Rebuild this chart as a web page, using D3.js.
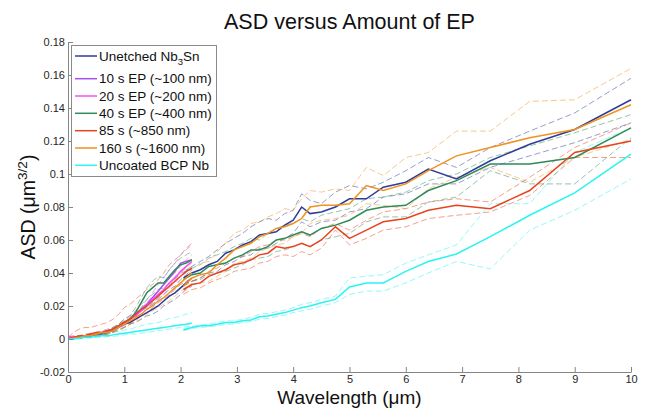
<!DOCTYPE html>
<html>
<head>
<meta charset="utf-8">
<script src="https://cdn.jsdelivr.net/npm/d3@7"></script>
<style>
body { margin: 0; background: #fff; }
svg text { font-family: Arial, "Liberation Sans", sans-serif; }
</style>
</head>
<body>
<script>
// wavelength grids (um): short-range scan and long-range scan
const wlShort = [0, 0.1, 0.2, 0.3, 0.4, 0.5, 0.6, 0.7, 0.8, 0.9, 1.0, 1.1, 1.2, 1.3, 1.4, 1.5, 1.6, 1.7, 1.8, 1.9, 2.0, 2.1, 2.2]
const wlLong = [2.05, 2.2, 2.35, 2.5, 2.65, 2.8, 2.95, 3.1, 3.25, 3.4, 3.55, 3.7, 3.85, 4.0, 4.15, 4.3, 4.5, 4.75, 5.0, 5.3, 5.6, 6.0, 6.4, 6.9, 7.5, 8.2, 9.0, 10.0]

const names = ['Unetched Nb3Sn', '10 s EP (~100 nm)', '20 s EP (~200 nm)', '40 s EP (~400 nm)', '85 s (~850 nm)', '160 s (~1600 nm)', 'Uncoated BCP Nb']
const colors = ['#2e3d98', '#a650ee', '#f54ef5', '#2e8b57', '#e8431e', '#f0921e', '#2af3f3']

const xTicks = [0, 1, 2, 3, 4, 5, 6, 7, 8, 9, 10]
const yTicks = [-0.02, 0, 0.02, 0.04, 0.06, 0.08, 0.1, 0.12, 0.14, 0.16, 0.18]

// Unetched Nb3Sn
const unetchedShort   = [0, 0.0005, 0.001, 0.0015, 0.002, 0.003, 0.003, 0.004, 0.005, 0.007, 0.009, 0.010, 0.012, 0.014, 0.016, 0.018, 0.020, 0.023, 0.026, 0.028, 0.031, 0.034, 0.037]
const unetchedShortHi = [0.0005, 0.001, 0.0015, 0.002, 0.003, 0.0035, 0.004, 0.005, 0.006, 0.008, 0.010, 0.012, 0.014, 0.017, 0.019, 0.021, 0.024, 0.027, 0.030, 0.032, 0.036, 0.039, 0.042]
const unetchedShortLo = [0, 0, 0.0005, 0.001, 0.0015, 0.002, 0.0025, 0.003, 0.004, 0.006, 0.007, 0.009, 0.010, 0.012, 0.014, 0.015, 0.017, 0.020, 0.022, 0.024, 0.027, 0.030, 0.032]
const unetchedLong   = [0.037, 0.040, 0.042, 0.045, 0.047, 0.052, 0.054, 0.057, 0.059, 0.063, 0.064, 0.065, 0.069, 0.072, 0.080, 0.076, 0.077, 0.080, 0.085, 0.085, 0.092, 0.095, 0.103, 0.097, 0.108, 0.118, 0.127, 0.145]
const unetchedLongHi = [0.040, 0.044, 0.047, 0.050, 0.054, 0.058, 0.061, 0.064, 0.068, 0.071, 0.073, 0.072, 0.076, 0.078, 0.088, 0.084, 0.082, 0.089, 0.093, 0.091, 0.095, 0.102, 0.110, 0.104, 0.116, 0.126, 0.137, 0.158]
const unetchedLongLo = [0.033, 0.035, 0.037, 0.040, 0.041, 0.045, 0.047, 0.050, 0.051, 0.055, 0.055, 0.058, 0.061, 0.064, 0.071, 0.068, 0.071, 0.072, 0.077, 0.079, 0.086, 0.088, 0.094, 0.094, 0.104, 0.111, 0.119, 0.131]

// 10 s EP (short range only)
const ep10Short   = [0.001, 0.001, 0.0015, 0.002, 0.0025, 0.003, 0.004, 0.005, 0.006, 0.008, 0.010, 0.012, 0.015, 0.018, 0.021, 0.025, 0.029, 0.033, 0.037, 0.041, 0.046, 0.047, 0.048]
const ep10ShortHi = [0.0015, 0.0015, 0.002, 0.003, 0.0035, 0.004, 0.005, 0.006, 0.007, 0.009, 0.012, 0.014, 0.017, 0.021, 0.024, 0.028, 0.033, 0.037, 0.042, 0.046, 0.051, 0.054, 0.057]
const ep10ShortLo = [0.0005, 0.0005, 0.001, 0.0015, 0.002, 0.0025, 0.003, 0.004, 0.005, 0.007, 0.008, 0.010, 0.013, 0.015, 0.018, 0.022, 0.025, 0.029, 0.032, 0.036, 0.040, 0.041, 0.042]

// 20 s EP (short range only)
const ep20Short   = [0.001, 0.0015, 0.001, 0.0015, 0.002, 0.003, 0.0035, 0.004, 0.006, 0.008, 0.010, 0.012, 0.014, 0.017, 0.020, 0.024, 0.027, 0.030, 0.034, 0.037, 0.041, 0.044, 0.047]
const ep20ShortHi = [0.0015, 0.002, 0.0015, 0.002, 0.0025, 0.0035, 0.004, 0.005, 0.007, 0.009, 0.011, 0.013, 0.016, 0.019, 0.022, 0.026, 0.029, 0.033, 0.037, 0.040, 0.044, 0.048, 0.051]
const ep20ShortLo = [0.0005, 0.001, 0.0005, 0.001, 0.0015, 0.0025, 0.003, 0.0035, 0.005, 0.007, 0.009, 0.011, 0.012, 0.015, 0.018, 0.022, 0.025, 0.027, 0.031, 0.034, 0.038, 0.041, 0.043]

// 40 s EP
const ep40Short   = [0, 0.0005, 0.001, 0.0015, 0.002, 0.003, 0.0035, 0.004, 0.006, 0.008, 0.010, 0.012, 0.016, 0.022, 0.028, 0.031, 0.034, 0.034, 0.038, 0.042, 0.045, 0.046, 0.048]
const ep40ShortHi = [0.0005, 0.001, 0.0015, 0.002, 0.003, 0.0035, 0.004, 0.005, 0.007, 0.009, 0.012, 0.014, 0.019, 0.025, 0.031, 0.035, 0.038, 0.037, 0.042, 0.046, 0.049, 0.051, 0.053]
const ep40ShortLo = [0, 0, 0.0005, 0.001, 0.0015, 0.0025, 0.003, 0.0035, 0.005, 0.007, 0.009, 0.010, 0.013, 0.019, 0.024, 0.027, 0.030, 0.031, 0.034, 0.038, 0.041, 0.042, 0.044]
const ep40Long   = [0.036, 0.039, 0.040, 0.044, 0.045, 0.046, 0.049, 0.051, 0.054, 0.054, 0.056, 0.060, 0.061, 0.063, 0.065, 0.063, 0.067, 0.069, 0.072, 0.078, 0.080, 0.081, 0.090, 0.096, 0.106, 0.106, 0.110, 0.128]
const ep40LongHi = [0.039, 0.043, 0.045, 0.049, 0.051, 0.053, 0.056, 0.058, 0.061, 0.060, 0.064, 0.067, 0.069, 0.070, 0.073, 0.071, 0.075, 0.077, 0.079, 0.085, 0.086, 0.089, 0.096, 0.100, 0.110, 0.117, 0.125, 0.136]
const ep40LongLo = [0.032, 0.035, 0.036, 0.039, 0.040, 0.041, 0.043, 0.045, 0.048, 0.049, 0.050, 0.053, 0.054, 0.056, 0.058, 0.056, 0.060, 0.062, 0.064, 0.071, 0.074, 0.074, 0.083, 0.086, 0.102, 0.094, 0.094, 0.122]

// 85 s
const ep85Short   = [0, 0.001, 0.002, 0.002, 0.003, 0.004, 0.004, 0.005, 0.006, 0.008, 0.010, 0.012, 0.015, 0.018, 0.020, 0.023, 0.026, 0.029, 0.032, 0.035, 0.038, 0.041, 0.043]
const ep85ShortHi = [0.001, 0.004, 0.006, 0.007, 0.007, 0.008, 0.009, 0.010, 0.012, 0.015, 0.019, 0.021, 0.024, 0.027, 0.030, 0.033, 0.036, 0.040, 0.045, 0.048, 0.051, 0.055, 0.058]
const ep85ShortLo = [0, 0, 0.0005, 0.001, 0.0015, 0.002, 0.002, 0.003, 0.004, 0.005, 0.007, 0.009, 0.011, 0.014, 0.016, 0.019, 0.022, 0.024, 0.027, 0.030, 0.033, 0.035, 0.037]
const ep85Long   = [0.030, 0.033, 0.034, 0.038, 0.040, 0.042, 0.045, 0.046, 0.048, 0.051, 0.052, 0.056, 0.055, 0.056, 0.058, 0.056, 0.060, 0.068, 0.061, 0.066, 0.071, 0.073, 0.078, 0.081, 0.079, 0.090, 0.113, 0.120]
const ep85LongHi = [0.032, 0.035, 0.037, 0.041, 0.043, 0.046, 0.049, 0.050, 0.053, 0.056, 0.057, 0.060, 0.060, 0.062, 0.064, 0.062, 0.067, 0.070, 0.066, 0.072, 0.077, 0.079, 0.083, 0.085, 0.083, 0.098, 0.116, 0.131]
const ep85LongLo = [0.027, 0.030, 0.031, 0.034, 0.036, 0.038, 0.041, 0.042, 0.043, 0.046, 0.047, 0.050, 0.051, 0.050, 0.053, 0.051, 0.055, 0.066, 0.057, 0.061, 0.066, 0.068, 0.073, 0.075, 0.077, 0.087, 0.110, 0.110]

// 160 s
const ep160Short   = [0, 0.0005, 0.001, 0.002, 0.002, 0.003, 0.004, 0.004, 0.005, 0.007, 0.009, 0.011, 0.013, 0.015, 0.018, 0.020, 0.023, 0.025, 0.028, 0.031, 0.034, 0.037, 0.040]
const ep160ShortHi = [0.0005, 0.001, 0.0015, 0.0025, 0.003, 0.004, 0.005, 0.005, 0.007, 0.009, 0.011, 0.013, 0.016, 0.018, 0.021, 0.024, 0.027, 0.030, 0.033, 0.036, 0.040, 0.043, 0.046]
const ep160ShortLo = [0, 0, 0.0005, 0.0015, 0.0015, 0.002, 0.003, 0.003, 0.004, 0.005, 0.007, 0.009, 0.010, 0.012, 0.015, 0.017, 0.019, 0.021, 0.023, 0.026, 0.029, 0.031, 0.034]
const ep160Long   = [0.032, 0.037, 0.039, 0.040, 0.045, 0.049, 0.054, 0.056, 0.058, 0.062, 0.064, 0.067, 0.068, 0.070, 0.073, 0.080, 0.081, 0.081, 0.082, 0.093, 0.090, 0.094, 0.102, 0.111, 0.116, 0.122, 0.127, 0.142]
const ep160LongHi = [0.036, 0.042, 0.046, 0.047, 0.053, 0.058, 0.064, 0.066, 0.070, 0.071, 0.074, 0.076, 0.079, 0.078, 0.085, 0.090, 0.089, 0.091, 0.090, 0.104, 0.099, 0.110, 0.113, 0.126, 0.126, 0.144, 0.145, 0.164]
const ep160LongLo = [0.029, 0.033, 0.034, 0.035, 0.038, 0.041, 0.046, 0.047, 0.049, 0.053, 0.055, 0.057, 0.058, 0.062, 0.064, 0.070, 0.072, 0.073, 0.075, 0.082, 0.081, 0.079, 0.091, 0.098, 0.104, 0.095, 0.110, 0.121]

// Uncoated BCP Nb
const bcpShort   = [0, 0, 0.0005, 0.001, 0.001, 0.0015, 0.002, 0.002, 0.0025, 0.003, 0.0035, 0.004, 0.0045, 0.005, 0.0055, 0.006, 0.0065, 0.007, 0.0075, 0.008, 0.0085, 0.009, 0.0095]
const bcpShortHi = [0, 0.0005, 0.001, 0.0015, 0.002, 0.0025, 0.003, 0.0035, 0.004, 0.005, 0.0055, 0.006, 0.007, 0.008, 0.009, 0.0095, 0.010, 0.011, 0.0125, 0.013, 0.014, 0.015, 0.016]
const bcpShortLo = [0, 0, 0, 0.0005, 0.0005, 0.001, 0.001, 0.0015, 0.0015, 0.002, 0.0025, 0.003, 0.003, 0.0035, 0.004, 0.0045, 0.005, 0.0055, 0.006, 0.0065, 0.007, 0.0075, 0.008]
const bcpLong   = [0.0055, 0.007, 0.008, 0.008, 0.009, 0.010, 0.010, 0.011, 0.0115, 0.0135, 0.014, 0.015, 0.016, 0.0175, 0.019, 0.020, 0.022, 0.024, 0.0315, 0.034, 0.034, 0.041, 0.047, 0.0515, 0.062, 0.075, 0.0885, 0.112]
const bcpLongHi = [0.006, 0.0075, 0.0085, 0.009, 0.010, 0.011, 0.011, 0.012, 0.013, 0.015, 0.0155, 0.0165, 0.0175, 0.019, 0.021, 0.022, 0.024, 0.026, 0.037, 0.038, 0.039, 0.046, 0.051, 0.057, 0.082, 0.082, 0.113, 0.128]
const bcpLongLo = [0.005, 0.0065, 0.007, 0.0075, 0.008, 0.009, 0.009, 0.010, 0.0105, 0.012, 0.0125, 0.0135, 0.0145, 0.016, 0.017, 0.018, 0.020, 0.022, 0.027, 0.029, 0.029, 0.034, 0.040, 0.047, 0.0425, 0.066, 0.078, 0.097]

// group per sample: [lo, mid, hi] for each range
const groups = [
    {short: [unetchedShortLo, unetchedShort, unetchedShortHi], long: [unetchedLongLo, unetchedLong, unetchedLongHi]},
    {short: [ep10ShortLo, ep10Short, ep10ShortHi], long: null},
    {short: [ep20ShortLo, ep20Short, ep20ShortHi], long: null},
    {short: [ep40ShortLo, ep40Short, ep40ShortHi], long: [ep40LongLo, ep40Long, ep40LongHi]},
    {short: [ep85ShortLo, ep85Short, ep85ShortHi], long: [ep85LongLo, ep85Long, ep85LongHi]},
    {short: [ep160ShortLo, ep160Short, ep160ShortHi], long: [ep160LongLo, ep160Long, ep160LongHi]},
    {short: [bcpShortLo, bcpShort, bcpShortHi], long: [bcpLongLo, bcpLong, bcpLongHi]}
]

const width = 646
const height = 411
const svg = d3.select('body').append('svg')
    .attr('width', width)
    .attr('height', height)

const x = d3.scaleLinear().domain([0, 10]).range([68, 631])
const y = d3.scaleLinear().domain([-0.02, 0.18]).range([372, 42])

const line = d3.line()
    .x(d => x(d[0]))
    .y(d => y(d[1]))

function pairs(wl, vals) {
    return wl.map((w, i) => [w, vals[i]]).filter(d => d[1] !== undefined)
}

// build line list: dashed bounds first, solid means on top
let dashed = []
let solid = []
groups.forEach((g, i) => {
    for (const [wl, set] of [[wlShort, g.short], [wlLong, g.long]]) {
        if (!set) continue
        dashed.push({pts: pairs(wl, set[0]), color: colors[i]})
        dashed.push({pts: pairs(wl, set[2]), color: colors[i]})
        solid.push({pts: pairs(wl, set[1]), color: colors[i]})
    }
})

svg.append('g').selectAll('path')
    .data(dashed)
    .join('path')
    .attr('d', d => line(d.pts))
    .attr('fill', 'none')
    .attr('stroke', d => d.color)
    .attr('stroke-opacity', 0.5)
    .attr('stroke-width', 1)
    .attr('stroke-dasharray', '6,3')

svg.append('g').selectAll('path')
    .data(solid)
    .join('path')
    .attr('d', d => line(d.pts))
    .attr('fill', 'none')
    .attr('stroke', d => d.color)
    .attr('stroke-width', 1.5)

// axes (ticks pointing inward, no box)
const axisColor = '#858585'
const xAxis = svg.append('g')
    .attr('transform', 'translate(0,372)')
    .call(d3.axisBottom(x).tickValues(xTicks).tickSize(-5).tickSizeOuter(0).tickPadding(3).tickFormat(d3.format('d')))
const yAxis = svg.append('g')
    .attr('transform', 'translate(68,0)')
    .call(d3.axisLeft(y).tickValues(yTicks).tickSize(-5).tickSizeOuter(0).tickPadding(3)
        .tickFormat(d => d === 0 ? '0' : String(+d.toFixed(2))))
for (const ax of [xAxis, yAxis]) {
    ax.select('.domain').attr('stroke', axisColor)
    ax.selectAll('.tick line').attr('stroke', axisColor)
    ax.selectAll('.tick text').attr('fill', '#262626').attr('font-size', 11).attr('font-family', 'Arial, Liberation Sans, sans-serif')
}

// title and axis labels
svg.append('text')
    .attr('x', 349.5)
    .attr('y', 29)
    .attr('text-anchor', 'middle')
    .attr('font-size', 21.5)
    .attr('fill', '#111')
    .text('ASD versus Amount of EP')

svg.append('text')
    .attr('x', 349.5)
    .attr('y', 404)
    .attr('text-anchor', 'middle')
    .attr('font-size', 19)
    .attr('fill', '#111')
    .text('Wavelength (μm)')

const ylab = svg.append('text')
    .attr('transform', 'translate(35,207) rotate(-90)')
    .attr('text-anchor', 'middle')
    .attr('font-size', 19.5)
    .attr('fill', '#111')
ylab.append('tspan').text('ASD (μm')
ylab.append('tspan').attr('font-size', 13.5).attr('dy', -8).text('3/2')
ylab.append('tspan').attr('dy', 8).text(')')

// legend
const legend = svg.append('g')
legend.append('rect')
    .attr('x', 71.5)
    .attr('y', 45.5)
    .attr('width', 145)
    .attr('height', 131)
    .attr('fill', '#fff')
    .attr('stroke', '#8a8a8a')
const legendY = [56, 78.7, 96, 113.3, 130.7, 148, 165.3]
names.forEach((name, i) => {
    legend.append('line')
        .attr('x1', 75).attr('x2', 97)
        .attr('y1', legendY[i]).attr('y2', legendY[i])
        .attr('stroke', colors[i])
        .attr('stroke-width', 1.5)
    const t = legend.append('text')
        .attr('x', 99)
        .attr('y', legendY[i] + 4.7)
        .attr('font-size', 13.5)
        .attr('fill', '#111')
    if (name.includes('Nb3Sn')) {
        t.append('tspan').text('Unetched Nb')
        t.append('tspan').attr('font-size', 9.5).attr('dy', 4).text('3')
        t.append('tspan').attr('dy', -4).text('Sn')
    } else {
        t.text(name)
    }
})
</script>
</body>
</html>
